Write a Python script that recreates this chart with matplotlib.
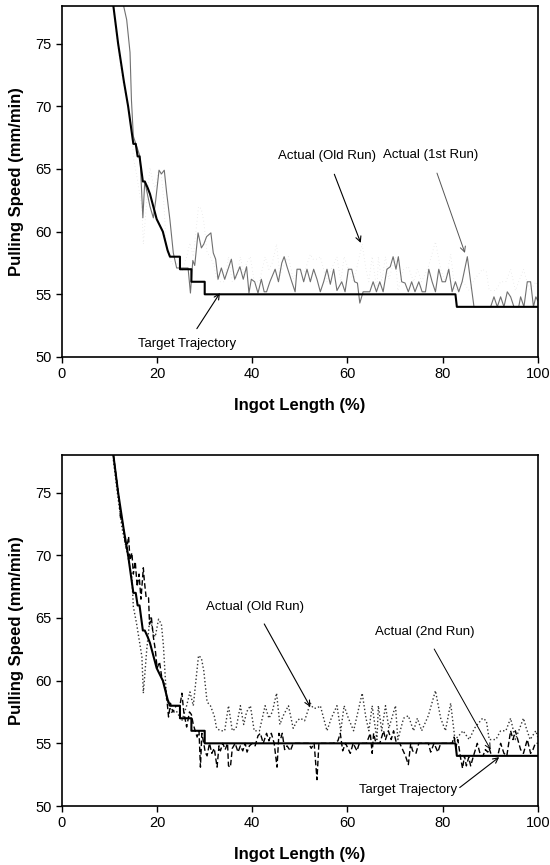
import matplotlib.pyplot as plt

plt.rcParams['font.family'] = ['Liberation Sans', 'DejaVu Sans']

# Target trajectory (same in both panels)
target_x = [10.8, 11.8, 13.0, 13.9, 15.0, 15.5, 15.9, 16.3, 17.0, 17.4,
            18.0, 18.5, 19.2, 19.9, 21.2, 22.2, 22.7, 24.8, 24.8, 27.2,
            27.2, 30.0, 30.0, 82.7, 83.0, 100.0]
target_y = [78, 75, 72, 70, 67, 67, 66, 66, 64, 64,
            63.5, 63, 62, 61, 60, 58.5, 58, 58, 57, 57,
            56, 56, 55, 55, 54, 54]

# Actual (Old Run)
old_x = [10.8, 11.5, 12.6, 13.6, 14.7, 15.0, 15.7, 16.8, 17.1, 17.8,
         18.5, 19.2, 19.6, 20.3, 20.9, 21.3, 22.0, 22.4, 23.1, 24.0,
         25.2, 26.2, 26.9, 27.6, 28.7, 29.3, 29.8, 30.5, 31.2, 32.0,
         32.5, 33.3, 34.2, 35.0, 35.8, 36.6, 37.5, 38.2, 38.8, 39.6,
         40.4, 41.5, 42.7, 43.5, 44.2, 45.1, 45.8, 46.5, 47.6, 48.6,
         49.4, 50.1, 51.0, 52.2, 52.8, 53.6, 54.3, 55.0, 55.7, 56.6,
         57.8, 58.6, 59.3, 60.2, 61.3, 62.2, 63.1, 63.9, 64.5, 65.2,
         66.2, 66.5, 67.2, 68.0, 68.7, 70.1, 70.6, 71.8, 72.8, 73.9,
         74.7, 75.6, 77.0, 78.5, 79.6, 80.6, 81.7, 82.6, 83.4, 84.3,
         85.6, 86.7, 88.4, 89.2, 89.8, 91.2, 92.2, 93.3, 94.3, 95.3,
         96.0, 97.0, 97.6, 98.4, 99.6, 100.0]
old_y = [77.6, 75.4, 72.2, 70.4, 68.2, 65.9, 64.5, 61.9, 59.0, 62.4,
         65.1, 63.8, 63.5, 64.9, 64.5, 62.9, 58.4, 58.2, 57.4, 57.6,
         56.8, 58.0, 59.1, 58.0, 62.0, 61.8, 60.8, 58.3, 58.0, 57.2,
         56.2, 56.0, 56.0, 58.0, 56.0, 56.2, 58.0, 56.5, 57.5, 58.0,
         56.0, 56.0, 58.0, 57.0, 57.5, 59.0, 56.5, 57.2, 58.0, 56.2,
         56.8, 57.0, 56.8, 58.2, 57.8, 57.8, 58.0, 57.0, 56.0, 57.0,
         58.0, 56.0, 58.0, 57.0, 56.0, 57.5, 59.0, 57.0, 56.0, 58.0,
         55.3, 58.0, 56.0, 58.0, 56.2, 58.0, 55.3, 57.0, 57.2, 56.0,
         57.0, 56.0, 57.2, 59.2, 57.0, 56.0, 58.2, 55.3, 55.6, 56.0,
         55.3, 56.2, 57.0, 56.8, 55.3, 55.3, 56.0, 56.0, 57.0, 55.3,
         56.0, 57.0, 56.2, 55.3, 56.0, 55.5]

# Actual (1st Run)
run1_x = [12.9, 13.6, 14.3, 14.6, 15.0, 15.7, 16.4, 17.0, 17.4, 18.5,
          19.2, 19.7, 20.4, 20.9, 21.5, 22.0, 22.7, 23.4, 24.1, 26.5,
          27.0, 27.5, 27.9, 28.6, 29.3, 29.8, 30.4, 31.3, 31.8, 32.3,
          32.8, 33.5, 34.2, 35.6, 36.3, 37.4, 38.1, 38.8, 39.3, 39.8,
          40.5, 41.2, 41.9, 42.5, 43.0, 43.7, 44.8, 45.5, 46.2, 46.7,
          47.3, 48.3, 49.0, 49.4, 50.1, 50.8, 51.5, 52.2, 52.9, 53.6,
          54.3, 55.0, 55.7, 56.4, 57.1, 57.8, 58.8, 59.5, 60.2, 60.9,
          61.5, 62.1, 62.6, 63.3, 64.7, 65.4, 66.1, 66.8, 67.5, 68.3,
          69.0, 69.6, 70.2, 70.7, 71.4, 72.1, 72.8, 73.5, 74.2, 75.0,
          75.7, 76.4, 77.1, 77.8, 78.5, 79.2, 79.9, 80.6, 81.3, 82.0,
          82.7, 83.4, 84.1, 85.2, 85.9, 86.6, 90.1, 90.8, 91.5, 92.2,
          92.9, 93.6, 94.3, 95.0, 96.0, 96.4, 97.1, 97.8, 98.5, 99.1,
          99.6, 100.0]
run1_y = [78.1, 76.9, 74.3, 70.5, 67.6, 66.8, 66.0, 61.1, 64.0, 62.0,
          61.1, 62.5, 64.9, 64.6, 64.9, 63.1, 60.9, 58.3, 57.1, 57.1,
          55.1, 57.7, 57.3, 59.9, 58.7, 59.0, 59.6, 59.9, 58.3, 57.8,
          56.2, 57.1, 56.2, 57.8, 56.2, 57.2, 56.2, 57.2, 55.1, 56.2,
          56.0, 55.1, 56.2, 55.2, 55.2, 56.0, 57.0, 56.0, 57.5, 58.0,
          57.2, 56.0, 55.2, 57.0, 57.0, 56.0, 57.0, 56.0, 57.0, 56.2,
          55.2, 56.0, 57.0, 55.8, 57.0, 55.3, 56.0, 55.2, 57.0, 57.0,
          56.0, 55.9, 54.3, 55.2, 55.2, 56.0, 55.2, 56.0, 55.2, 57.0,
          57.2, 58.0, 57.0, 58.0, 56.0, 55.9, 55.2, 56.0, 55.2, 56.0,
          55.2, 55.2, 57.0, 56.0, 55.2, 57.0, 56.0, 56.0, 57.0, 55.2,
          56.0, 55.2, 56.0, 58.0, 56.0, 54.0, 54.0, 54.8, 54.0, 54.8,
          54.0, 55.2, 54.8, 54.0, 54.0, 54.8, 54.0, 56.0, 56.0, 54.0,
          54.8, 54.5]

# Actual (2nd Run)
run2_x = [10.8, 11.5, 12.0, 12.3, 12.8, 13.3, 13.6, 14.0, 14.3, 14.7,
          15.0, 15.4, 15.8, 16.2, 16.6, 17.1, 17.3, 17.7, 18.2, 18.4,
          18.8, 19.2, 19.6, 20.0, 20.5, 21.0, 21.7, 22.0, 22.4, 22.8,
          23.3, 24.0, 24.8, 25.2, 25.6, 26.2, 26.8, 27.2, 27.6, 28.0,
          28.4, 28.8, 29.1, 29.4, 29.8, 30.1, 30.5, 31.0, 31.5, 32.0,
          32.6, 33.0, 33.3, 33.8, 34.3, 34.8, 35.0, 35.4, 35.8, 36.4,
          37.0, 37.5, 38.0, 38.5, 38.9, 39.4, 40.0, 40.6, 41.2, 41.7,
          42.3, 43.0, 43.5, 44.0, 44.6, 45.2, 45.6, 46.0, 46.3, 46.8,
          47.3, 48.0, 48.6, 49.2, 50.0, 51.0, 51.8, 52.4, 53.0, 53.6,
          54.0, 54.5, 55.2, 56.0, 57.0, 58.0, 58.5, 59.0, 59.6, 60.6,
          61.2, 62.0, 62.5, 63.2, 64.0, 64.8, 65.2, 65.5, 66.0, 66.8,
          67.6, 68.0, 68.6, 69.2, 69.7, 70.3, 71.0, 71.6, 72.2, 72.8,
          73.3, 73.7, 74.4, 75.0, 75.6, 76.4, 77.0, 77.5, 78.2, 79.0,
          79.6, 80.4, 81.2, 82.0, 82.4, 82.8, 83.2, 83.8, 84.2, 84.6,
          85.0, 85.5, 85.9, 86.5, 87.3, 88.0, 88.5, 89.0, 89.5, 89.8,
          90.3, 91.0, 91.6, 92.2, 92.9, 93.5, 94.3, 94.8, 95.3, 95.8,
          96.4, 97.0, 97.8, 98.5, 99.0, 99.5, 100.0]
run2_y = [78, 76, 74.5, 73, 72.5, 71, 70.5, 71.5, 69.6, 70.2,
          68.5, 69.5, 67.5, 68.5, 66.5, 69, 68, 66.6, 66.6, 64.5,
          65, 63.5, 62.5, 61, 61.5, 60.2, 59.5, 58.7, 57.1, 58.2,
          57.5, 58, 58, 59, 57.5, 56.3, 57.5, 57.3, 56.5, 56,
          55.5, 56, 53.1, 55.8, 55, 54.3, 54, 55, 54.2, 54.6,
          53.1, 54.8, 54.4, 55, 54.5, 55, 53.2, 53.1, 54.6, 55,
          54.3, 54.8, 54.4, 55, 54.3, 54.8, 55, 54.8, 55.6, 55.8,
          55, 55.8, 55.2, 55.8, 55, 53.1, 55.8, 55.4, 55.8, 54.5,
          54.8, 54.4, 55, 55, 55, 55, 55, 54.6, 55, 52.1,
          55, 55, 55, 55, 55, 55.2, 55.8, 54.4, 55, 54.2,
          55, 54.4, 55, 55, 55, 55.8, 54.2, 55.8, 55, 55,
          56, 55.3, 56, 55.3, 56, 55, 55, 54.5, 54, 53.3,
          55, 54.4, 54.2, 55, 55, 55, 55, 54.3, 55, 54.3,
          55, 55, 55, 55, 55.5, 54.7, 55.3, 53.8, 53, 54,
          53.2, 53.9, 53.2, 54, 55, 54, 54, 54.5, 54.3, 54.6,
          54, 54, 54, 55, 54.2, 54, 56, 55.3, 56, 55.3,
          54.5, 54.2, 55.3, 54.2, 54.5, 55, 55]

x_ticks = [0, 20, 40, 60, 80, 100]
y_ticks = [50, 55, 60, 65, 70, 75]

fig = plt.figure(figsize=(5.5, 8.65), dpi=100)
ax1 = fig.add_axes([0.1127, 0.5873, 0.865, 0.4058])
ax2 = fig.add_axes([0.1127, 0.0682, 0.865, 0.4058])


def style_axes(ax):
    ax.set_xlim(0, 100)
    ax.set_ylim(50, 78)
    ax.set_xticks(x_ticks)
    ax.set_yticks(y_ticks)
    ax.tick_params(direction='out', length=4, width=1, labelsize=10.5,
                   top=False, right=False)
    for s in ax.spines.values():
        s.set_linewidth(1.2)
    ax.set_xlabel('Ingot Length (%)', fontsize=12, fontweight='bold', labelpad=12)
    ax.set_ylabel('Pulling Speed (mm/min)', fontsize=12, fontweight='bold', labelpad=8)


# top panel - old run is barely visible in the scan
ax1.plot(old_x, old_y, color='#d6d6d6', lw=0.6, dashes=(0.6, 3.5))
ax1.plot(run1_x, run1_y, '-', color='#707070', lw=0.8)
ax1.plot(target_x, target_y, '-', color='black', lw=1.5)
style_axes(ax1)

ax1.annotate('Actual (Old Run)', xy=(62.8, 59.1), xytext=(55.8, 66.0),
             fontsize=9.5, ha='center', va='center',
             arrowprops=dict(arrowstyle='->', color='black', lw=0.8,
                             shrinkA=7, shrinkB=0))
ax1.annotate('Actual (1st Run)', xy=(84.7, 58.3), xytext=(77.5, 66.1),
             fontsize=9.5, ha='center', va='center',
             arrowprops=dict(arrowstyle='->', color='#555555', lw=0.7,
                             shrinkA=7, shrinkB=0))
ax1.annotate('Target Trajectory', xy=(33.2, 55.1), xytext=(26.2, 51.0),
             fontsize=9.5, ha='center', va='center',
             arrowprops=dict(arrowstyle='->', color='black', lw=0.8,
                             shrinkA=6, shrinkB=0))

# bottom panel
ax2.plot(old_x, old_y, ':', color='#333333', lw=1.0)
ax2.plot(run2_x, run2_y, '--', color='black', lw=1.0, dashes=(4, 2))
ax2.plot(target_x, target_y, '-', color='black', lw=1.5)
style_axes(ax2)

ax2.annotate('Actual (Old Run)', xy=(52.2, 57.9), xytext=(40.5, 65.9),
             fontsize=9.5, ha='center', va='center',
             arrowprops=dict(arrowstyle='->', color='black', lw=0.8,
                             shrinkA=7, shrinkB=0))
ax2.annotate('Actual (2nd Run)', xy=(90.1, 54.5), xytext=(76.2, 63.9),
             fontsize=9.5, ha='center', va='center',
             arrowprops=dict(arrowstyle='->', color='black', lw=0.7,
                             shrinkA=7, shrinkB=0))
ax2.annotate('Target Trajectory', xy=(91.9, 53.9), xytext=(72.7, 51.3),
             fontsize=9.5, ha='center', va='center',
             arrowprops=dict(arrowstyle='->', color='black', lw=0.8,
                             shrinkA=0, shrinkB=0,
                             relpos=(1.0, 0.5)))

fig.savefig('out.png', dpi=100)
